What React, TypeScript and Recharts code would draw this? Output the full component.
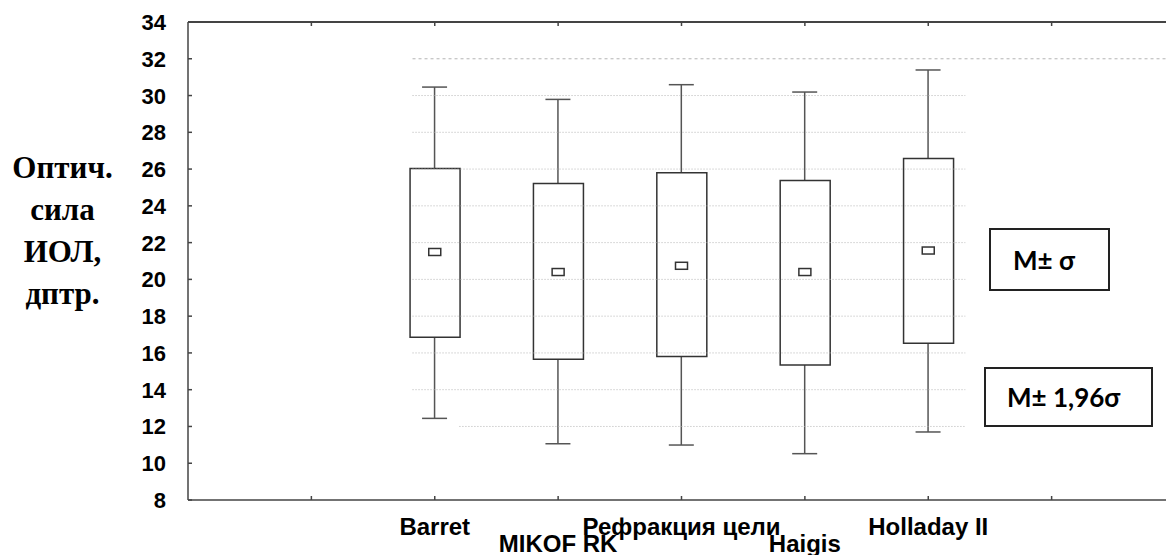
import React from "react";
import {
  ComposedChart,
  Bar,
  Scatter,
  XAxis,
  YAxis,
  ReferenceLine,
} from "recharts";

// IOL power by formula: mean, M±σ box, M±1.96σ whiskers
const categories = ["Barret", "MIKOF RK", "Рефракция цели", "Haigis", "Holladay II"];
const positions = [2, 3, 4, 5, 6];
const whiskerLow = [12.44, 11.06, 10.99, 10.52, 11.7];
const boxLow = [16.85, 15.65, 15.8, 15.34, 16.53];
const means = [21.49, 20.4, 20.74, 20.4, 21.57];
const boxHigh = [26.03, 25.22, 25.8, 25.38, 26.58];
const whiskerHigh = [30.46, 29.79, 30.59, 30.19, 31.39];

const yTicks = [8, 10, 12, 14, 16, 18, 20, 22, 24, 26, 28, 30, 32, 34];
const xTicks = [1, 2, 3, 4, 5, 6, 7];
const gridLevels = [12, 14, 16, 18, 20, 22, 24, 26, 28, 30];
const topGridLevel = 32;
const gridFrom = 1.82;
const gridTo = 6.3;
const frameTop = 34;

const data = positions.map((pos, i) => ({
  pos,
  name: categories[i],
  whisker: [whiskerLow[i], whiskerHigh[i]],
  box: [boxLow[i], boxHigh[i]],
  mean: means[i],
}));

const AXIS = "#444";
const BOX = "#333";
const GRID = "#b4b4b4";
const SANS = "'Liberation Sans', Arial, sans-serif";

function Whisker(props: any) {
  const { x, y, width, height } = props;
  const cx = x + width / 2;
  return (
    <g stroke="#555" strokeWidth={1.5}>
      <line x1={cx} y1={y} x2={cx} y2={y + height} />
      <line x1={x} y1={y} x2={x + width} y2={y} />
      <line x1={x} y1={y + height} x2={x + width} y2={y + height} />
    </g>
  );
}

function MeanMark(props: any) {
  const { cx, cy } = props;
  return (
    <rect x={cx - 6} y={cy - 3.5} width={12} height={7} fill="#fff" stroke={BOX} strokeWidth={1.5} />
  );
}

function BottomTick(props: any) {
  const { x, y, payload } = props;
  const i = positions.indexOf(payload.value);
  return (
    <g>
      <line x1={x} y1={y} x2={x} y2={y - 4} stroke={AXIS} strokeWidth={1.5} />
      {i >= 0 && (
        <text
          x={x}
          y={y + (i % 2 === 0 ? 35 : 52)}
          textAnchor="middle"
          fontFamily={SANS}
          fontWeight="bold"
          fontSize={24}
          fill="#000"
        >
          {categories[i]}
        </text>
      )}
    </g>
  );
}

function TopTick(props: any) {
  const { x, y } = props;
  return <line x1={x} y1={y} x2={x} y2={y + 4} stroke={AXIS} strokeWidth={1.5} />;
}

function LeftTick(props: any) {
  const { x, y, payload } = props;
  return (
    <g>
      <line x1={x + 22} y1={y} x2={x + 26} y2={y} stroke={AXIS} strokeWidth={1.5} />
      <text
        x={x}
        y={y}
        dy={8}
        textAnchor="end"
        fontFamily={SANS}
        fontWeight="bold"
        fontSize={22}
        fill="#000"
      >
        {payload.value}
      </text>
    </g>
  );
}

const legendBox: React.CSSProperties = {
  position: "absolute",
  border: "2px solid #222",
  boxSizing: "border-box",
  fontFamily: "Lato, 'Open Sans', sans-serif",
  fontWeight: 700,
  fontSize: 26,
  display: "flex",
  alignItems: "center",
  background: "#fff",
};

export default function App() {
  return (
    <div
      style={{
        position: "absolute",
        left: 0,
        top: 0,
        width: 1166,
        height: 555,
        overflow: "hidden",
        background: "#fff",
      }}
    >
      <ComposedChart
        width={1200}
        height={555}
        data={data}
        margin={{ top: 12, right: 25, bottom: 0, left: 128 }}
      >
        <XAxis
          xAxisId="bottom"
          dataKey="pos"
          type="number"
          domain={[0, 8]}
          ticks={xTicks}
          height={55}
          axisLine={{ stroke: AXIS, strokeWidth: 1.5 }}
          tickLine={false}
          tickSize={0}
          tickMargin={0}
          tick={<BottomTick />}
          interval={0}
        />
        <XAxis
          xAxisId="top"
          orientation="top"
          dataKey="pos"
          type="number"
          domain={[0, 8]}
          ticks={xTicks}
          height={10}
          axisLine={{ stroke: AXIS, strokeWidth: 2 }}
          tickLine={false}
          tickSize={0}
          tickMargin={0}
          tick={<TopTick />}
          interval={0}
        />
        <YAxis
          domain={[8, 34]}
          ticks={yTicks}
          width={60}
          axisLine={{ stroke: AXIS, strokeWidth: 1.5 }}
          tickLine={false}
          tickSize={0}
          tickMargin={22}
          tick={<LeftTick />}
          interval={0}
          allowDataOverflow
        />
        {gridLevels.map((v) => (
          <ReferenceLine
            key={v}
            xAxisId="bottom"
            segment={[
              { x: v === 12 ? 2.2 : gridFrom, y: v },
              { x: gridTo, y: v },
            ]}
            stroke={GRID}
            strokeDasharray="1 2"
          />
        ))}
        <ReferenceLine
          xAxisId="bottom"
          segment={[
            { x: gridFrom, y: topGridLevel },
            { x: 8, y: topGridLevel },
          ]}
          stroke={GRID}
          strokeDasharray="3 3"
        />
        <ReferenceLine
          xAxisId="bottom"
          segment={[
            { x: 0, y: frameTop },
            { x: 8, y: frameTop },
          ]}
          stroke={AXIS}
          strokeWidth={1.5}
        />
        <Bar
          xAxisId="top"
          dataKey="whisker"
          barSize={25}
          shape={<Whisker />}
          isAnimationActive={false}
        />
        <Bar
          xAxisId="bottom"
          dataKey="box"
          barSize={50}
          fill="#fff"
          stroke={BOX}
          strokeWidth={1.5}
          isAnimationActive={false}
        />
        <Scatter
          xAxisId="bottom"
          dataKey="mean"
          shape={<MeanMark />}
          isAnimationActive={false}
        />
      </ComposedChart>

      <div
        style={{
          position: "absolute",
          left: 0,
          top: 147,
          width: 125,
          textAlign: "center",
          fontFamily: "'Liberation Serif', 'Times New Roman', serif",
          fontWeight: "bold",
          fontSize: 31,
          lineHeight: "42px",
        }}
      >
        Оптич.
        <br />
        сила
        <br />
        ИОЛ,
        <br />
        дптр.
      </div>

      <div style={{ ...legendBox, left: 989, top: 228, width: 121, height: 63, paddingLeft: 22 }}>
        M± σ
      </div>
      <div style={{ ...legendBox, left: 984, top: 367, width: 169, height: 60, paddingLeft: 21 }}>
        M± 1,96σ
      </div>
    </div>
  );
}
